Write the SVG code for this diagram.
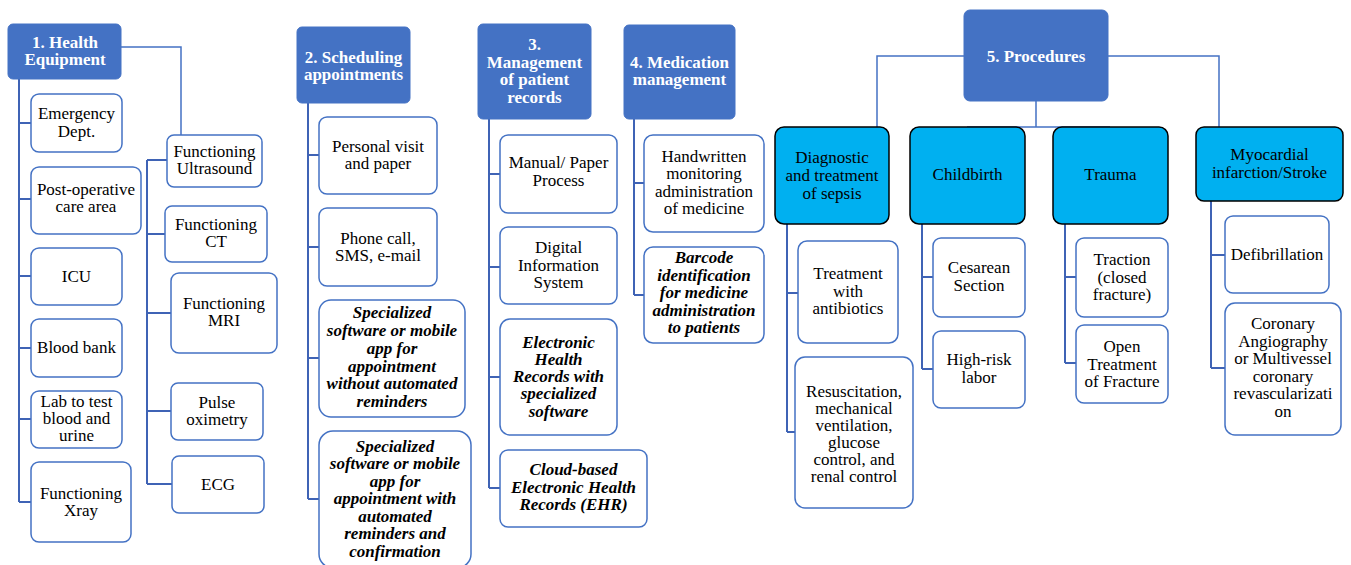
<svg xmlns="http://www.w3.org/2000/svg" width="1351" height="565" viewBox="0 0 1351 565">
<style>
.hdr{fill:#4472C4;stroke:#4472C4;stroke-width:1}
.lv2{fill:#00B0F0;stroke:#000;stroke-width:1.5}
.box{fill:#fff;stroke:#4472C4;stroke-width:1.5}
.tr{fill:none;stroke:#3F63B5;stroke-width:2}
.tp{fill:none;stroke:#4472C4;stroke-width:1.5}
text{font-family:'Liberation Serif','Times New Roman',serif;font-size:17px;text-anchor:middle;fill:#000}
.h{fill:#fff;font-weight:bold}
.bi{font-weight:bold;font-style:italic}
</style>
<rect width="1351" height="565" fill="#fff"/>
<g id="connectors">
<path class="tp" d="M121,47 H181 V135"/>
<path class="tr" d="M19,79 V502 M19,123 H31 M19,199 H31 M19,276 H31 M19,348 H31 M19,419 H31 M19,502 H31"/>
<path class="tr" d="M147,160 V484 M147,160 H167 M147,234 H165 M147,313 H171 M147,411 H171 M147,484 H172"/>
<path class="tr" d="M308,103 V499 M308,155 H319 M308,247 H319 M308,358 H319 M308,499 H319"/>
<path class="tr" d="M489,119 V488 M489,174 H500 M489,267 H500 M489,377 H500 M489,488 H500"/>
<path class="tr" d="M634,119 V295 M634,183 H644 M634,295 H644"/>
<path class="tp" d="M964,56 H877 V127 M1108,56 H1219 V127 M1036,101 V127 M967,127 H1110"/>
<path class="tr" d="M787,224 V432 M787,293 H798 M787,432 H795"/>
<path class="tr" d="M922,224 V369 M922,277 H933 M922,369 H933"/>
<path class="tr" d="M1065,224 V363 M1065,277 H1076 M1065,363 H1076"/>
<path class="tr" d="M1211,201 V368 M1211,255 H1225 M1211,368 H1225"/>
</g>
<g id="n1"><rect class="hdr" x="8" y="24" width="113" height="55" rx="5"/><text class="h"><tspan x="65" y="48">1. Health</tspan><tspan x="65" y="65">Equipment</tspan></text></g>
<g id="n1a"><rect class="box" x="31" y="94" width="91" height="58" rx="8"/><text><tspan x="76.5" y="119">Emergency</tspan><tspan x="76.5" y="137">Dept.</tspan></text></g>
<g id="n1b"><rect class="box" x="31" y="167" width="110" height="67" rx="8"/><text><tspan x="86" y="195">Post-operative</tspan><tspan x="86" y="212">care area</tspan></text></g>
<g id="n1c"><rect class="box" x="31" y="248" width="91" height="57" rx="8"/><text x="76.5" y="282">ICU</text></g>
<g id="n1d"><rect class="box" x="31" y="319" width="91" height="58" rx="8"/><text x="76.5" y="353">Blood bank</text></g>
<g id="n1e"><rect class="box" x="31" y="391" width="91" height="57" rx="8"/><text><tspan x="76.5" y="407">Lab to test</tspan><tspan x="76.5" y="424">blood and</tspan><tspan x="76.5" y="441">urine</tspan></text></g>
<g id="n1f"><rect class="box" x="31" y="462" width="100" height="80" rx="8"/><text><tspan x="81" y="499">Functioning</tspan><tspan x="81" y="516">Xray</tspan></text></g>
<g id="n1g"><rect class="box" x="167" y="135" width="95" height="52" rx="7"/><text><tspan x="214.5" y="157">Functioning</tspan><tspan x="214.5" y="174">Ultrasound</tspan></text></g>
<g id="n1h"><rect class="box" x="165" y="206" width="102" height="56" rx="7"/><text><tspan x="216" y="230">Functioning</tspan><tspan x="216" y="247">CT</tspan></text></g>
<g id="n1i"><rect class="box" x="171" y="273" width="106" height="80" rx="8"/><text><tspan x="224" y="309">Functioning</tspan><tspan x="224" y="326">MRI</tspan></text></g>
<g id="n1j"><rect class="box" x="171" y="383" width="92" height="57" rx="7"/><text><tspan x="217" y="408">Pulse</tspan><tspan x="217" y="425">oximetry</tspan></text></g>
<g id="n1k"><rect class="box" x="172" y="456" width="92" height="57" rx="7"/><text x="218" y="490">ECG</text></g>
<g id="n2"><rect class="hdr" x="297" y="27" width="113" height="76" rx="5"/><text class="h"><tspan x="353.5" y="63">2. Scheduling</tspan><tspan x="353.5" y="80">appointments</tspan></text></g>
<g id="n2a"><rect class="box" x="319" y="117" width="118" height="77" rx="8"/><text><tspan x="378" y="152">Personal visit</tspan><tspan x="378" y="169">and paper</tspan></text></g>
<g id="n2b"><rect class="box" x="319" y="208" width="118" height="78" rx="8"/><text><tspan x="378" y="244">Phone call,</tspan><tspan x="378" y="261">SMS, e-mail</tspan></text></g>
<g id="n2c"><rect class="box" x="319" y="300" width="146" height="117" rx="12"/><text class="bi"><tspan x="392" y="318">Specialized</tspan><tspan x="392" y="336">software or mobile</tspan><tspan x="392" y="354">app for</tspan><tspan x="392" y="372">appointment</tspan><tspan x="392" y="389">without automated</tspan><tspan x="392" y="407">reminders</tspan></text></g>
<g id="n2d"><rect class="box" x="319" y="431" width="152" height="137" rx="14"/><text class="bi"><tspan x="395" y="452">Specialized</tspan><tspan x="395" y="469">software or mobile</tspan><tspan x="395" y="487">app for</tspan><tspan x="395" y="504">appointment with</tspan><tspan x="395" y="522">automated</tspan><tspan x="395" y="539">reminders and</tspan><tspan x="395" y="557">confirmation</tspan></text></g>
<g id="n3"><rect class="hdr" x="478" y="24" width="113" height="95" rx="5"/><text class="h"><tspan x="534.5" y="50">3.</tspan><tspan x="534.5" y="68">Management</tspan><tspan x="534.5" y="85">of patient</tspan><tspan x="534.5" y="103">records</tspan></text></g>
<g id="n3a"><rect class="box" x="500" y="135" width="117" height="78" rx="8"/><text><tspan x="558.5" y="168">Manual/ Paper</tspan><tspan x="558.5" y="186">Process</tspan></text></g>
<g id="n3b"><rect class="box" x="500" y="227" width="117" height="77" rx="8"/><text><tspan x="558.5" y="253">Digital</tspan><tspan x="558.5" y="271">Information</tspan><tspan x="558.5" y="288">System</tspan></text></g>
<g id="n3c"><rect class="box" x="500" y="319" width="117" height="116" rx="10"/><text class="bi"><tspan x="558.5" y="348">Electronic</tspan><tspan x="558.5" y="365">Health</tspan><tspan x="558.5" y="382">Records with</tspan><tspan x="558.5" y="399">specialized</tspan><tspan x="558.5" y="417">software</tspan></text></g>
<g id="n3d"><rect class="box" x="500" y="450" width="147" height="77" rx="8"/><text class="bi"><tspan x="573.5" y="475">Cloud-based</tspan><tspan x="573.5" y="493">Electronic Health</tspan><tspan x="573.5" y="510">Records (EHR)</tspan></text></g>
<g id="n4"><rect class="hdr" x="624" y="25" width="111" height="94" rx="5"/><text class="h"><tspan x="679.5" y="68">4. Medication</tspan><tspan x="679.5" y="85">management</tspan></text></g>
<g id="n4a"><rect class="box" x="644" y="135" width="120" height="97" rx="9"/><text><tspan x="704" y="162">Handwritten</tspan><tspan x="704" y="179">monitoring</tspan><tspan x="704" y="197">administration</tspan><tspan x="704" y="214">of medicine</tspan></text></g>
<g id="n4b"><rect class="box" x="644" y="247" width="120" height="96" rx="9"/><text class="bi"><tspan x="704" y="263">Barcode</tspan><tspan x="704" y="281">identification</tspan><tspan x="704" y="298">for medicine</tspan><tspan x="704" y="316">administration</tspan><tspan x="704" y="333">to patients</tspan></text></g>
<g id="n5"><rect class="hdr" x="964" y="10" width="144" height="91" rx="6"/><text class="h" x="1036" y="62">5. Procedures</text></g>
<g id="n5a"><rect class="lv2" x="775" y="127" width="114" height="97" rx="9"/><text><tspan x="832" y="163">Diagnostic</tspan><tspan x="832" y="181">and treatment</tspan><tspan x="832" y="199">of sepsis</tspan></text></g>
<g id="n5b"><rect class="lv2" x="910" y="127" width="115" height="97" rx="9"/><text x="967.5" y="180">Childbirth</text></g>
<g id="n5c"><rect class="lv2" x="1053" y="127" width="115" height="97" rx="9"/><text x="1110.5" y="180">Trauma</text></g>
<g id="n5d"><rect class="lv2" x="1196" y="127" width="147" height="74" rx="8"/><text><tspan x="1269.5" y="160">Myocardial</tspan><tspan x="1269.5" y="178">infarction/Stroke</tspan></text></g>
<g id="n5a1"><rect class="box" x="798" y="241" width="100" height="102" rx="9"/><text><tspan x="848" y="279">Treatment</tspan><tspan x="848" y="297">with</tspan><tspan x="848" y="314">antibiotics</tspan></text></g>
<g id="n5a2"><rect class="box" x="795" y="357" width="118" height="151" rx="10"/><text><tspan x="854" y="397">Resuscitation,</tspan><tspan x="854" y="414">mechanical</tspan><tspan x="854" y="431">ventilation,</tspan><tspan x="854" y="448">glucose</tspan><tspan x="854" y="465">control, and</tspan><tspan x="854" y="482">renal control</tspan></text></g>
<g id="n5b1"><rect class="box" x="933" y="238" width="92" height="79" rx="8"/><text><tspan x="979" y="273">Cesarean</tspan><tspan x="979" y="291">Section</tspan></text></g>
<g id="n5b2"><rect class="box" x="933" y="331" width="92" height="77" rx="8"/><text><tspan x="979" y="365">High-risk</tspan><tspan x="979" y="383">labor</tspan></text></g>
<g id="n5c1"><rect class="box" x="1076" y="238" width="92" height="79" rx="8"/><text><tspan x="1122" y="265">Traction</tspan><tspan x="1122" y="283">(closed</tspan><tspan x="1122" y="300">fracture)</tspan></text></g>
<g id="n5c2"><rect class="box" x="1076" y="325" width="92" height="78" rx="8"/><text><tspan x="1122" y="352">Open</tspan><tspan x="1122" y="370">Treatment</tspan><tspan x="1122" y="387">of Fracture</tspan></text></g>
<g id="n5d1"><rect class="box" x="1225" y="216" width="104" height="77" rx="8"/><text x="1277" y="260">Defibrillation</text></g>
<g id="n5d2"><rect class="box" x="1225" y="303" width="116" height="132" rx="10"/><text><tspan x="1283" y="329">Coronary</tspan><tspan x="1283" y="347">Angiography</tspan><tspan x="1283" y="364">or Multivessel</tspan><tspan x="1283" y="382">coronary</tspan><tspan x="1283" y="399">revascularizati</tspan><tspan x="1283" y="417">on</tspan></text></g>
</svg>
